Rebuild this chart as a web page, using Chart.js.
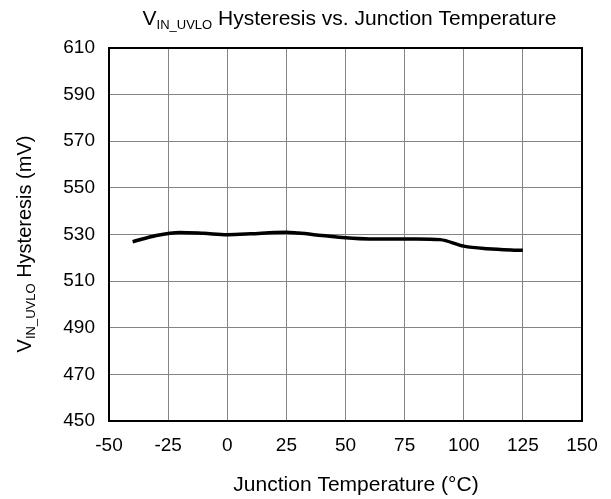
<!DOCTYPE html>
<html>
<head>
<meta charset="utf-8">
<script src="https://cdn.jsdelivr.net/npm/chart.js@4/dist/chart.umd.min.js"></script>
<style>
  html, body { margin: 0; padding: 0; background: #ffffff; }
  #wrap { width: 611px; height: 499px; }
</style>
</head>
<body>
<div id="wrap"><canvas id="c" width="611" height="499"></canvas></div>
<script>
// ---- data ----
const temperatures = [-40, -30, -20, -10, 0, 10, 20, 25, 30, 40, 50, 60, 70, 80, 90, 100, 110, 125];
const hysteresis   = [526.9, 529.6, 530.9, 530.5, 529.9, 530.3, 530.9, 531.0, 530.6, 529.6, 528.6, 528.1, 528.1, 528.1, 527.8, 525.0, 523.9, 523.2];
const xTicks = [-50, -25, 0, 25, 50, 75, 100, 125, 150];
const yTicks = [450, 470, 490, 510, 530, 550, 570, 590, 610];

const titleMain = { big: "V", sub: "IN_UVLO", rest: " Hysteresis vs. Junction Temperature" };
const titleY    = { big: "V", sub: "IN_UVLO", rest: " Hysteresis (mV)" };
const titleX    = "Junction Temperature (°C)";

const FONT = "'Liberation Sans', Arial, sans-serif";
const points = temperatures.map((t, i) => ({ x: t, y: hysteresis[i] }));

function measureParts(ctx, parts, size, subSize) {
  ctx.font = size + "px " + FONT;
  const w1 = ctx.measureText(parts.big).width;
  ctx.font = subSize + "px " + FONT;
  const w2 = ctx.measureText(parts.sub).width;
  ctx.font = size + "px " + FONT;
  const w3 = ctx.measureText(parts.rest).width;
  return [w1, w2, w3];
}
function renderSubText(ctx, parts, size, subSize, cx, baseY) {
  const [w1, w2, w3] = measureParts(ctx, parts, size, subSize);
  const total = w1 + w2 + w3;
  let x = cx - total / 2;
  ctx.textBaseline = "alphabetic";
  ctx.textAlign = "left";
  ctx.font = size + "px " + FONT;
  ctx.fillText(parts.big, x, baseY); x += w1;
  ctx.font = subSize + "px " + FONT;
  ctx.fillText(parts.sub, x, baseY + size * 0.2); x += w2;
  ctx.font = size + "px " + FONT;
  ctx.fillText(parts.rest, x, baseY);
}

const decorPlugin = {
  id: "decor",
  afterDraw(chart) {
    const ctx = chart.ctx;
    const a = chart.chartArea;
    ctx.save();
    ctx.strokeStyle = "#000000";
    ctx.lineWidth = 2;
    ctx.strokeRect(a.left, a.top, a.right - a.left, a.bottom - a.top);
    ctx.fillStyle = "#000000";
    // main title
    renderSubText(ctx, titleMain, 21, 13, (a.left + a.right) / 2 + 4, 25);
    // x title
    ctx.font = "21px " + FONT;
    ctx.textAlign = "center";
    ctx.textBaseline = "alphabetic";
    ctx.fillText(titleX, 356, 491);
    // y title
    ctx.save();
    ctx.translate(31, 244);
    ctx.rotate(-Math.PI / 2);
    renderSubText(ctx, titleY, 20, 13, 0, 0);
    ctx.restore();
    ctx.restore();
  }
};

new Chart(document.getElementById("c"), {
  type: "line",
  data: {
    datasets: [{
      data: points,
      borderColor: "#000000",
      borderWidth: 3.5,
      pointRadius: 0,
      fill: false,
      cubicInterpolationMode: "monotone"
    }]
  },
  options: {
    responsive: false,
    animation: false,
    devicePixelRatio: 1,
    layout: { padding: { top: 48, right: 29, left: 0, bottom: 0 } },
    plugins: { legend: { display: false }, title: { display: false }, tooltip: { enabled: false } },
    scales: {
      x: {
        type: "linear",
        min: -50, max: 150,
        afterBuildTicks: (s) => { s.ticks = xTicks.map(v => ({ value: v })); },
        afterFit: (s) => { s.height = 78; },
        grid: { color: "#858585", lineWidth: 1, drawTicks: false },
        border: { display: false },
        ticks: { color: "#000000", font: { family: FONT, size: 19 }, padding: 13, maxRotation: 0 }
      },
      y: {
        type: "linear",
        min: 450, max: 610,
        afterBuildTicks: (s) => { s.ticks = yTicks.map(v => ({ value: v })); },
        afterFit: (s) => { s.width = 109; },
        grid: { color: "#858585", lineWidth: 1, drawTicks: false },
        border: { display: false },
        ticks: { color: "#000000", font: { family: FONT, size: 19 }, padding: 14 }
      }
    }
  },
  plugins: [decorPlugin]
});
</script>
</body>
</html>
